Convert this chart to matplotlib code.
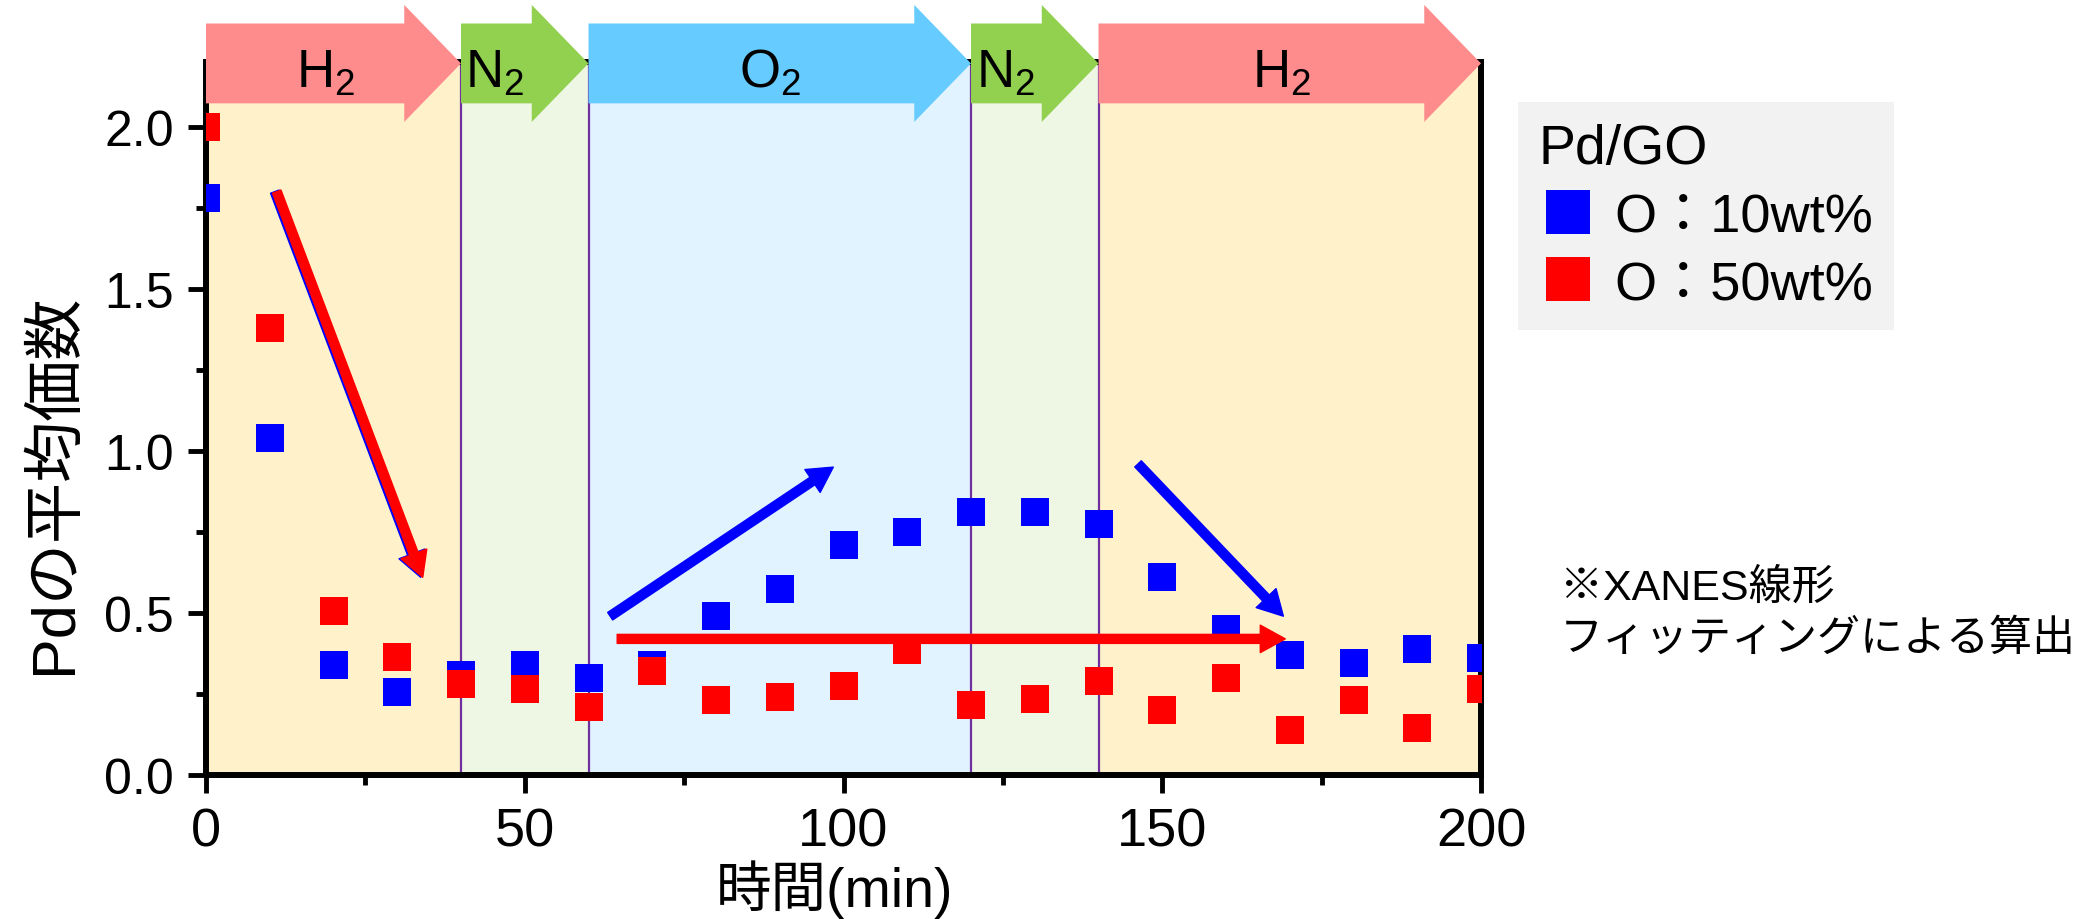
import matplotlib
matplotlib.use("Agg")
import matplotlib.pyplot as plt
from matplotlib.patches import Polygon
from matplotlib.ticker import MultipleLocator, FormatStrFormatter
import matplotlib.transforms as mtransforms

# data
time = [0, 10, 20, 30, 40, 50, 60, 70, 80, 90, 100, 110, 120, 130, 140, 150, 160, 170, 180, 190, 200]
o10 = [1.78, 1.04, 0.34, 0.255, 0.31, 0.34, 0.30, 0.34, 0.49, 0.575, 0.71, 0.75, 0.81, 0.81, 0.775,
       0.61, 0.45, 0.37, 0.345, 0.39, 0.36]
o50 = [2.00, 1.38, 0.505, 0.365, 0.28, 0.265, 0.21, 0.32, 0.23, 0.24, 0.275, 0.385, 0.215, 0.235, 0.29,
       0.20, 0.30, 0.14, 0.23, 0.145, 0.265]

# gas atmosphere segments (min)
gas_names = ["H$_{\\mathrm{2}}$", "N$_{\\mathrm{2}}$", "O$_{\\mathrm{2}}$", "N$_{\\mathrm{2}}$", "H$_{\\mathrm{2}}$"]
gas_start = [0, 40, 60, 120, 140]
gas_end = [40, 60, 120, 140, 200]
gas_text_x = [18.8, 45.2, 88.5, 125.5, 168.8]
boundaries = [40, 60, 120, 140]

# trend arrows: (x0, y0) -> (x1, y1)
red_diag = [(11.1, 1.80), (34.0, 0.61)]
blue_up = [(63.4, 0.49), (98.4, 0.95)]
red_flat = [(64.5, 0.42), (169.3, 0.42)]
blue_down = [(146.2, 0.96), (169.0, 0.49)]

plt.rcParams['font.family'] = ['Liberation Sans', 'Noto Sans CJK JP']
plt.rcParams['mathtext.fontset'] = 'custom'
plt.rcParams['mathtext.rm'] = 'Liberation Sans'

fig = plt.figure(figsize=(20.89, 9.2), dpi=100)
ax = fig.add_axes([206/2089, 1 - 776/920, 1275/2089, 713/920])

band_col = ['#FFF1C9', '#EEF7E3', '#E0F3FF', '#EEF7E3', '#FFF1C9']
arrow_col = ['#FF8C8C', '#92D050', '#66CCFF', '#92D050', '#FF8C8C']
for s, e, c in zip(gas_start, gas_end, band_col):
    ax.axvspan(s, e, color=c, lw=0, zorder=0)
for b in boundaries:
    ax.axvline(b, color='#7030A0', lw=1.6, zorder=1)

ax.plot(time, o10, 's', ms=20, mew=0, color='#0000FF', zorder=3, label='O：10wt%')
ax.plot(time, o50, 's', ms=20, mew=0, color='#FF0000', zorder=3, label='O：50wt%')

def trend(pts, color, trans=None):
    ax.annotate('', xy=pts[1], xytext=pts[0],
                xycoords=trans or 'data', textcoords=trans or 'data',
                arrowprops=dict(arrowstyle='simple,head_length=0.5,head_width=0.55,tail_width=0.18',
                                mutation_scale=36, color=color, shrinkA=0, shrinkB=0),
                zorder=5)

shadow = mtransforms.offset_copy(ax.transData, fig=fig, x=-2, y=0, units='dots')
trend(red_diag, '#0000FF', shadow)
trend(red_diag, '#FF0000')
trend(blue_up, '#0000FF')
trend(red_flat, '#FF0000')
trend(blue_down, '#0000FF')

# gas banner arrows along the top edge
bt = mtransforms.blended_transform_factory(ax.transData, ax.transAxes)
c, b, H, h = 0.998, 0.056, 0.082, 8.9
for s, e, col, name, tx in zip(gas_start, gas_end, arrow_col, gas_names, gas_text_x):
    verts = [(s, c - b), (e - h, c - b), (e - h, c - H), (e, c),
             (e - h, c + H), (e - h, c + b), (s, c + b)]
    ax.add_patch(Polygon(verts, closed=True, facecolor=col, edgecolor='none',
                         transform=bt, clip_on=False, zorder=10))
    ax.text(tx, c - 0.012, name, transform=bt, ha='center', va='center',
            fontsize=38, zorder=11, clip_on=False)

ax.set_xlim(0, 200)
ax.set_ylim(0, 2.2)
ax.xaxis.set_major_locator(MultipleLocator(50))
ax.xaxis.set_minor_locator(MultipleLocator(25))
ax.yaxis.set_major_locator(MultipleLocator(0.5))
ax.yaxis.set_minor_locator(MultipleLocator(0.25))
ax.yaxis.set_major_formatter(FormatStrFormatter('%.1f'))
ax.tick_params(which='major', direction='out', length=13, width=3.5)
ax.tick_params(which='minor', direction='out', length=7, width=3.5)
ax.tick_params(axis='x', labelsize=39, pad=10)
ax.tick_params(axis='y', labelsize=36, pad=10)
for sp in ax.spines.values():
    sp.set_linewidth(4.3)

ax.set_xlabel('時間(min)', fontsize=40, va='center')
ax.xaxis.set_label_coords(0.493, -0.16)
ax.set_ylabel('Pdの平均価数', fontsize=44, va='center')
ax.yaxis.set_label_coords(-0.118, 0.41)

leg = fig.legend(loc='upper left', bbox_to_anchor=(1518/2089, 1 - 103/920), borderaxespad=0,
                 title='Pd/GO', title_fontsize=40, fontsize=39, alignment='left',
                 markerscale=1.55, handlelength=1.1, handletextpad=0.3, labelspacing=0.32,
                 borderpad=0.38, fancybox=False, framealpha=1)
leg.get_frame().set_facecolor('#F2F2F2')
leg.get_frame().set_edgecolor('none')

fig.text(1560/2089, 1 - 614/920, '※XANES線形\nフィッティングによる算出',
         fontsize=31, ha='left', va='center', linespacing=1.35)

fig.savefig('out.png', dpi=100)
